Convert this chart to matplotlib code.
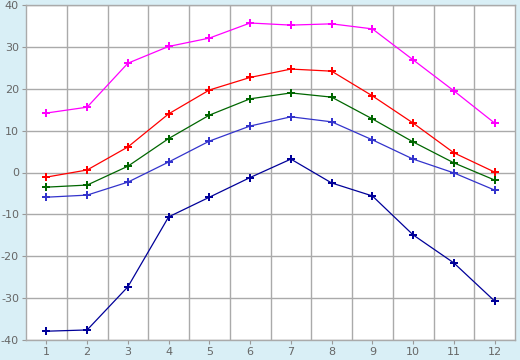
import numpy as np
import matplotlib
matplotlib.use('Agg')
import matplotlib.pyplot as plt

plt.rcParams['axes.unicode_minus'] = False

months = [1, 2, 3, 4, 5, 6, 7, 8, 9, 10, 11, 12]
abs_max = [14.2, 15.6, 26.1, 30.1, 32.1, 35.7, 35.2, 35.5, 34.3, 26.9, 19.5, 11.8]
avg_max = [-1.1, 0.6, 6.1, 14.0, 19.7, 22.7, 24.7, 24.2, 18.3, 11.8, 4.7, 0.1]
avg_mean = [-3.5, -3.0, 1.5, 8.1, 13.7, 17.6, 19.0, 18.0, 12.8, 7.3, 2.3, -1.8]
avg_min = [-5.9, -5.4, -2.3, 2.5, 7.5, 11.1, 13.3, 12.1, 7.8, 3.2, -0.1, -4.2]
abs_min = [-37.9, -37.6, -27.3, -10.6, -5.9, -1.2, 3.2, -2.5, -5.6, -14.9, -21.6, -30.7]

series = [
    (abs_max, '#ff00ff'),
    (avg_max, '#ff0000'),
    (avg_mean, '#006600'),
    (avg_min, '#3333cc'),
    (abs_min, '#000099'),
]

bg = '#d9eff6'
fig = plt.figure(figsize=(5.2, 3.6), dpi=100, facecolor=bg)
ax = fig.add_axes([26 / 520, 20 / 360, 489 / 520, 335 / 360])
ax.set_facecolor('white')

for vals, col in series:
    ax.plot(months, vals, color=col, linewidth=0.9, marker='P',
            markersize=5.5, markeredgewidth=0)

ax.set_xlim(0.5, 12.5)
ax.set_ylim(-40, 40)
ax.set_xticks(months)
ax.set_xticks(np.arange(1.5, 12, 1), minor=True)
ax.set_yticks(range(-40, 41, 10))

ax.grid(True, which='minor', axis='x', color='#aaaaaa', linewidth=1)
ax.grid(True, which='major', axis='y', color='#aaaaaa', linewidth=1)
ax.set_axisbelow(True)
ax.tick_params(axis='x', which='minor', length=0)
ax.tick_params(which='major', direction='out', length=3, color='#999999',
               labelcolor='#666666', labelsize=8, pad=2)

for sp in ax.spines.values():
    sp.set_color('#aaaaaa')
    sp.set_linewidth(1)

fig.savefig('out.png', dpi=100, facecolor=bg)
